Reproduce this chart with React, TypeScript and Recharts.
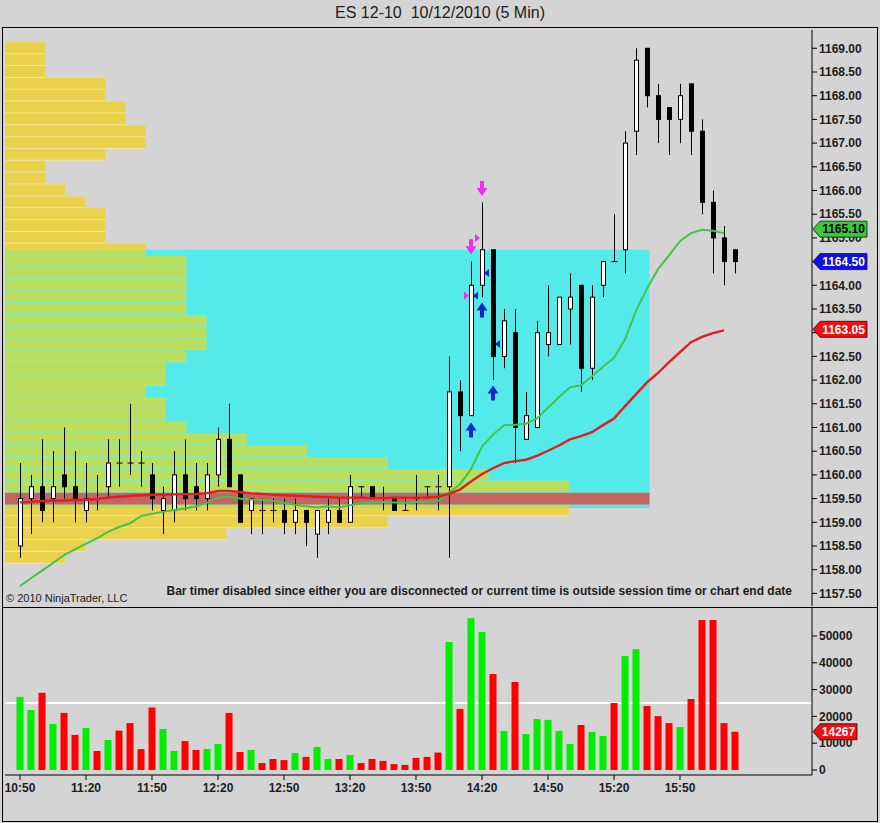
import React from "react";
import {
  ComposedChart,
  Bar,
  Line,
  XAxis,
  YAxis,
  ReferenceArea,
  ReferenceLine,
  Scatter,
  Cell,
} from "recharts";

// ---------------- DATA ----------------
const TIMES = [
  "10:50", "10:55", "11:00", "11:05", "11:10", "11:15", "11:20", "11:25", "11:30", "11:35", "11:40", "11:45",
  "11:50", "11:55", "12:00", "12:05", "12:10", "12:15", "12:20", "12:25", "12:30", "12:35", "12:40", "12:45",
  "12:50", "12:55", "13:00", "13:05", "13:10", "13:15", "13:20", "13:25", "13:30", "13:35", "13:40", "13:45",
  "13:50", "13:55", "14:00", "14:05", "14:10", "14:15", "14:20", "14:25", "14:30", "14:35", "14:40", "14:45",
  "14:50", "14:55", "15:00", "15:05", "15:10", "15:15", "15:20", "15:25", "15:30", "15:35", "15:40", "15:45",
  "15:50", "15:55", "16:00", "16:05", "16:10", "16:15",
];

const OPEN = [
  1158.5, 1159.5, 1159.75, 1159.5, 1160.0, 1159.75, 1159.25, 1159.5, 1159.75, 1160.25, 1160.25, 1160.25,
  1160.0, 1159.25, 1159.25, 1160.0, 1159.75, 1159.5, 1160.0, 1160.75, 1160.0, 1159.25, 1159.25, 1159.25,
  1159.25, 1159.0, 1159.25, 1158.75, 1159.0, 1159.25, 1159.0, 1159.75, 1159.75, 1159.5, 1159.5, 1159.25,
  1159.5, 1159.75, 1159.75, 1159.75, 1161.75, 1161.25, 1164.0, 1164.75, 1162.5, 1163.0, 1160.75, 1161.0,
  1162.75, 1162.75, 1163.5, 1164.0, 1162.25, 1164.0, 1164.5, 1164.75, 1167.25, 1169.0, 1168.0, 1167.75,
  1167.5, 1168.25, 1167.25, 1165.75, 1165.0, 1164.75,
];
const HIGH = [
  1160.25, 1160.0, 1160.75, 1160.5, 1161.0, 1160.5, 1160.25, 1160.0, 1160.75, 1160.75, 1161.5, 1160.5,
  1160.25, 1159.75, 1160.5, 1160.75, 1160.25, 1160.25, 1161.0, 1161.5, 1160.0, 1159.5, 1159.5, 1159.5,
  1159.5, 1159.5, 1159.25, 1159.25, 1159.5, 1159.5, 1160.0, 1159.75, 1159.75, 1159.75, 1159.5, 1159.5,
  1160.0, 1159.75, 1160.0, 1162.5, 1162.0, 1164.5, 1165.75, 1164.75, 1163.5, 1163.5, 1161.75, 1163.25,
  1164.0, 1163.75, 1164.25, 1164.0, 1164.0, 1164.5, 1165.5, 1167.25, 1169.0, 1169.0, 1168.25, 1167.75,
  1168.25, 1168.25, 1167.5, 1166.0, 1165.25, 1164.75,
];
const LOW = [
  1158.25, 1158.75, 1159.0, 1159.0, 1159.5, 1159.0, 1159.0, 1159.25, 1159.5, 1159.75, 1160.0, 1159.75,
  1159.25, 1158.75, 1159.0, 1159.25, 1159.25, 1159.25, 1159.75, 1159.75, 1159.0, 1158.75, 1158.75, 1159.0,
  1158.75, 1158.75, 1158.5, 1158.25, 1158.75, 1159.0, 1159.0, 1159.5, 1159.5, 1159.25, 1159.25, 1159.25,
  1159.25, 1159.5, 1159.25, 1158.25, 1160.5, 1161.25, 1163.75, 1162.0, 1162.25, 1160.25, 1160.75, 1161.0,
  1162.5, 1162.75, 1162.75, 1161.75, 1162.0, 1163.75, 1164.5, 1164.25, 1166.75, 1167.75, 1167.0, 1166.75,
  1167.0, 1166.75, 1165.5, 1164.25, 1164.0, 1164.25,
];
const CLOSE = [
  1159.5, 1159.75, 1159.25, 1159.75, 1159.75, 1159.5, 1159.5, 1159.5, 1160.25, 1160.25, 1160.25, 1160.25,
  1159.5, 1159.5, 1160.0, 1159.5, 1159.5, 1160.0, 1160.75, 1159.75, 1159.0, 1159.5, 1159.25, 1159.25,
  1159.0, 1159.25, 1159.0, 1159.25, 1159.25, 1159.0, 1159.75, 1159.75, 1159.5, 1159.5, 1159.25, 1159.25,
  1159.5, 1159.75, 1159.75, 1161.75, 1161.25, 1164.0, 1164.75, 1162.5, 1163.25, 1161.0, 1161.25, 1163.0,
  1163.0, 1163.75, 1163.75, 1162.25, 1163.75, 1164.5, 1164.5, 1167.0, 1168.75, 1168.0, 1167.5, 1167.5,
  1168.0, 1167.25, 1165.75, 1165.0, 1164.5, 1164.5,
];
const VOLUME = [
  27300, 22400, 28800, 17200, 21300, 13100, 15700, 7100, 11200, 14700, 17500, 7800,
  23300, 15300, 7100, 10800, 7500, 7800, 9700, 21300, 6700, 7500, 2600, 4100,
  3700, 6300, 4900, 8600, 4100, 4100, 5600, 2600, 4100, 3400, 2200, 1900,
  4500, 4900, 6500, 47800, 22800, 56600, 51500, 35800, 14600, 32800, 13400, 19000,
  18700, 14600, 9700, 16800, 14200, 12700, 25000, 42500, 45100, 23900, 20100, 17500,
  16000, 26500, 56000, 56000, 17500, 14267,
];
const SMA_FAST = [
  1157.65, 1157.82, 1157.98, 1158.14, 1158.31, 1158.43, 1158.55, 1158.66, 1158.8, 1158.9,
  1158.98, 1159.13, 1159.18, 1159.22, 1159.26, 1159.29, 1159.34, 1159.41, 1159.52, 1159.54,
  1159.5, 1159.48, 1159.47, 1159.45, 1159.41, 1159.37, 1159.34, 1159.31, 1159.34, 1159.31,
  1159.36, 1159.4, 1159.42, 1159.43, 1159.42, 1159.41, 1159.43, 1159.44, 1159.45, 1159.62,
  1159.8, 1160.12, 1160.6, 1160.85, 1161.05, 1161.06, 1161.08, 1161.19, 1161.42, 1161.64,
  1161.85, 1161.89, 1162.08, 1162.28, 1162.47, 1162.86, 1163.46, 1163.93, 1164.34, 1164.63,
  1164.93, 1165.1, 1165.17, 1165.15, 1165.1, null,
];
const SMA_SLOW = [
  1159.42, 1159.43, 1159.45, 1159.455, 1159.46, 1159.47, 1159.47, 1159.49, 1159.52, 1159.54,
  1159.555, 1159.57, 1159.58, 1159.585, 1159.59, 1159.595, 1159.6, 1159.615, 1159.66, 1159.66,
  1159.64, 1159.61, 1159.6, 1159.58, 1159.57, 1159.56, 1159.55, 1159.54, 1159.53, 1159.52,
  1159.52, 1159.52, 1159.51, 1159.51, 1159.52, 1159.52, 1159.52, 1159.52, 1159.54, 1159.6,
  1159.69, 1159.86, 1160.02, 1160.14, 1160.25, 1160.29, 1160.32, 1160.4, 1160.51, 1160.62,
  1160.75, 1160.82, 1160.9, 1161.05, 1161.19, 1161.45, 1161.7, 1161.95, 1162.15, 1162.38,
  1162.59, 1162.8, 1162.91, 1162.99, 1163.05, null,
];

const PROFILE_PRICES = [
  1169.0, 1168.75, 1168.5, 1168.25, 1168.0, 1167.75, 1167.5, 1167.25, 1167.0, 1166.75, 1166.5,
  1166.25, 1166.0, 1165.75, 1165.5, 1165.25, 1165.0, 1164.75, 1164.5, 1164.25, 1164.0, 1163.75,
  1163.5, 1163.25, 1163.0, 1162.75, 1162.5, 1162.25, 1162.0, 1161.75, 1161.5, 1161.25, 1161.0,
  1160.75, 1160.5, 1160.25, 1160.0, 1159.75, 1159.5, 1159.25, 1159.0, 1158.75, 1158.5, 1158.25,
];
const PROFILE_COUNTS = [
  2, 2, 2, 5, 5, 6, 6, 7, 7, 5, 2,
  2, 3, 4, 5, 5, 5, 7, 9, 9, 9, 9,
  9, 10, 10, 10, 9, 8, 8, 7, 8, 8, 9,
  12, 15, 19, 24, 28, 32, 28, 19, 11, 4, 3,
];
const VALUE_AREA_LOW = 1159.3;
const VALUE_AREA_HIGH = 1164.75;
const POC_PRICE = 1159.5;
const AVG_VOLUME = 25000;

const PRICE_TICKS = [
  1157.5, 1158, 1158.5, 1159, 1159.5, 1160, 1160.5, 1161, 1161.5, 1162, 1162.5, 1163,
  1163.5, 1164, 1164.5, 1165, 1165.5, 1166, 1166.5, 1167, 1167.5, 1168, 1168.5, 1169,
];
const VOLUME_TICKS = [0, 10000, 20000, 30000, 40000, 50000];
const TIME_TICK_LABELS = ["10:50", "11:20", "11:50", "12:20", "12:50", "13:20", "13:50", "14:20", "14:50", "15:20", "15:50"];

const SELL_ARROWS = [
  { idx: 41, price: 1164.8 },
  { idx: 42, price: 1166.03 },
];
const BUY_ARROWS = [
  { idx: 41, price: 1160.96 },
  { idx: 42, price: 1163.49 },
  { idx: 43, price: 1161.74 },
];
const SELL_MARKERS = [
  { idx: 42, price: 1165.0 },
  { idx: 41, price: 1163.78 },
];
const BUY_MARKERS = [
  { idx: 41, price: 1163.78 },
  { idx: 42, price: 1164.26 },
  { idx: 43, price: 1162.76 },
];

// ---------------- LAYOUT CONSTANTS ----------------
const FONT = "'Liberation Sans', Arial, Helvetica, sans-serif";
const X_DOMAIN: [number, number] = [-1.364, 72];
const PRICE_DOMAIN: [number, number] = [1157.234, 1169.386];
const VOL_DOMAIN: [number, number] = [-1866, 60448];
const VP_DOMAIN: [number, number] = [0, 40.07];
const ROW_HALF = 0.125;
const ROW_GAP = 0.022;

const COL_CYAN = "#55eaea";
const COL_YELLOW = "#ebd24c";
const COL_YELLOW_LIGHT = "#f4e49e";
const COL_GREENYELLOW = "#bade5e";
const COL_GREEN_LIGHT = "#84eec6";
const COL_POC = "#c46464";

const candles = TIMES.map((t, i) => ({
  idx: i,
  time: t,
  open: OPEN[i],
  high: HIGH[i],
  low: LOW[i],
  close: CLOSE[i],
  range: [LOW[i], HIGH[i]],
  vol: VOLUME[i],
  fast: SMA_FAST[i],
  slow: SMA_SLOW[i],
}));

const timeTickIdx = TIME_TICK_LABELS.map((l) => TIMES.indexOf(l));

type Seg = { key: string; x2: number; y1: number; y2: number; fill: string };
const profileSegs: Seg[] = [];
const splitRow = (i: number, lo: number, hi: number, c: number, inCol: string, outCol: string, tag: string) => {
  const inLo = Math.max(lo, VALUE_AREA_LOW);
  const inHi = Math.min(hi, VALUE_AREA_HIGH);
  if (inHi > inLo) profileSegs.push({ key: `${tag}g${i}`, x2: c, y1: inLo, y2: inHi, fill: inCol });
  if (lo < VALUE_AREA_LOW) profileSegs.push({ key: `${tag}b${i}`, x2: c, y1: lo, y2: Math.min(hi, VALUE_AREA_LOW), fill: outCol });
  if (hi > VALUE_AREA_HIGH) profileSegs.push({ key: `${tag}t${i}`, x2: c, y1: Math.max(lo, VALUE_AREA_HIGH), y2: hi, fill: outCol });
};
PROFILE_PRICES.forEach((p, i) => {
  const c = PROFILE_COUNTS[i];
  // light separator layer (full row height), then the row body
  splitRow(i, p - ROW_HALF, p + ROW_HALF, c, COL_GREEN_LIGHT, COL_YELLOW_LIGHT, "s");
  splitRow(i, p - ROW_HALF + ROW_GAP, p + ROW_HALF, c, COL_GREENYELLOW, COL_YELLOW, "r");
});
const pocCount = PROFILE_COUNTS[PROFILE_PRICES.indexOf(POC_PRICE)];

// ---------------- SHAPES ----------------
const Candle = (props: any) => {
  const { x, y, width, height } = props;
  const p = props.payload || props;
  if (x == null || y == null) return null;
  const span = p.high - p.low;
  const py = (v: number) => y + (span === 0 ? 0 : ((p.high - v) / span) * height);
  const cx = Math.round(x + width / 2) + 0.5;
  const top = py(Math.max(p.open, p.close));
  const bot = py(Math.min(p.open, p.close));
  const up = p.close > p.open;
  const doji = p.close === p.open;
  return (
    <g>
      <line x1={cx} x2={cx} y1={y} y2={y + height} stroke="#000" strokeWidth={1} />
      {doji ? (
        <line x1={cx - 3} x2={cx + 3} y1={top} y2={top} stroke="#000" strokeWidth={1} />
      ) : (
        <rect x={cx - 2} y={top} width={4} height={Math.max(bot - top, 1)} fill={up ? "#ffffff" : "#000000"} stroke="#000" strokeWidth={1} />
      )}
    </g>
  );
};

const DownArrow = (props: any) => {
  const { cx, cy } = props;
  if (cx == null) return null;
  const pts = [
    [cx - 2, cy - 8], [cx + 2, cy - 8], [cx + 2, cy - 1], [cx + 5.5, cy - 1],
    [cx, cy + 7], [cx - 5.5, cy - 1], [cx - 2, cy - 1],
  ].map((q) => q.join(",")).join(" ");
  return <polygon points={pts} fill="#f02cf0" />;
};
const UpArrow = (props: any) => {
  const { cx, cy } = props;
  if (cx == null) return null;
  const pts = [
    [cx - 2, cy + 8], [cx + 2, cy + 8], [cx + 2, cy + 1], [cx + 5.5, cy + 1],
    [cx, cy - 7], [cx - 5.5, cy + 1], [cx - 2, cy + 1],
  ].map((q) => q.join(",")).join(" ");
  return <polygon points={pts} fill="#1426c8" />;
};
const RightTri = (props: any) => {
  const { cx, cy } = props;
  if (cx == null) return null;
  const x0 = cx - 7;
  return <polygon points={`${x0},${cy - 4} ${x0 + 5},${cy} ${x0},${cy + 4}`} fill="#f02cf0" />;
};
const LeftTri = (props: any) => {
  const { cx, cy } = props;
  if (cx == null) return null;
  const x0 = cx + 7;
  return <polygon points={`${x0},${cy - 4} ${x0 - 5},${cy} ${x0},${cy + 4}`} fill="#1426c8" />;
};

const Flag = ({ vb, text, bg, fg, w, shift = 0 }: any) => {
  if (!vb) return null;
  const x0 = vb.x + vb.width + 1;
  const y = vb.y + (vb.height || 0) / 2 + shift;
  const h = 8;
  const pts = `${x0},${y} ${x0 + 7},${y - h} ${x0 + 7 + w},${y - h} ${x0 + 7 + w},${y + h} ${x0 + 7},${y + h}`;
  return (
    <g>
      <polygon points={pts} fill={bg} stroke="#111" strokeWidth={0.8} />
      <text x={x0 + 7 + w / 2} y={y} dy="0.36em" textAnchor="middle" fontSize={12} fontWeight="bold" fill={fg} fontFamily={FONT}>
        {text}
      </text>
    </g>
  );
};

const tickStyle = { fontSize: 12, fontWeight: "bold", fill: "#1c1c1c", fontFamily: FONT };

const MAIN_MARGIN = { top: 30, right: 8, left: 5, bottom: 1 };
const VOL_MARGIN = { top: 1, right: 8, left: 5, bottom: 18 };

export default function App() {
  const lastFast = SMA_FAST[64] as number;
  const lastSlow = SMA_SLOW[64] as number;
  const lastClose = CLOSE[CLOSE.length - 1];
  const lastVol = VOLUME[VOLUME.length - 1];

  return (
    <div
      style={{
        position: "absolute",
        left: 0,
        top: 0,
        width: 880,
        height: 823,
        background: "#d4d4d4",
        fontFamily: FONT,
        overflow: "hidden",
      }}
    >
      <div
        style={{
          position: "absolute",
          left: 0,
          top: 4,
          width: 880,
          textAlign: "center",
          fontSize: 16,
          whiteSpace: "pre",
          color: "#202020",
        }}
      >
        {"ES 12-10  10/12/2010 (5 Min)"}
      </div>

      {/* Price panel */}
      <div style={{ position: "absolute", left: 0, top: 0 }}>
        <ComposedChart width={880} height={607} data={candles} margin={MAIN_MARGIN}>
          <XAxis xAxisId="main" dataKey="idx" type="number" domain={X_DOMAIN} allowDataOverflow hide ticks={timeTickIdx} />
          <XAxis xAxisId="vp" dataKey="profileCount" type="number" domain={VP_DOMAIN} allowDataOverflow hide />
          <YAxis
            yAxisId="price"
            orientation="right"
            width={60}
            type="number"
            domain={PRICE_DOMAIN}
            allowDataOverflow
            ticks={PRICE_TICKS}
            interval={0}
            tickFormatter={(v: number) => v.toFixed(2)}
            tick={tickStyle}
            tickLine={{ stroke: "#000" }}
            axisLine={{ stroke: "#000" }}
            tickSize={5}
            tickMargin={2}
          />
          <ReferenceArea
            xAxisId="vp"
            yAxisId="price"
            x1={0}
            x2={pocCount}
            y1={VALUE_AREA_LOW}
            y2={VALUE_AREA_HIGH}
            fill={COL_CYAN}
            fillOpacity={1}
            stroke="none"
            ifOverflow="visible"
          />
          {profileSegs.map((s) => (
            <ReferenceArea
              key={s.key}
              xAxisId="vp"
              yAxisId="price"
              x1={0}
              x2={s.x2}
              y1={s.y1}
              y2={s.y2}
              fill={s.fill}
              fillOpacity={1}
              stroke="none"
              ifOverflow="visible"
            />
          ))}
          <ReferenceArea
            xAxisId="vp"
            yAxisId="price"
            x1={0}
            x2={pocCount}
            y1={POC_PRICE - ROW_HALF}
            y2={POC_PRICE + ROW_HALF}
            fill={COL_POC}
            fillOpacity={1}
            stroke="none"
            ifOverflow="visible"
          />
          <Bar xAxisId="main" yAxisId="price" dataKey="range" barSize={6} shape={<Candle />} isAnimationActive={false} />
          <Line xAxisId="main" yAxisId="price" dataKey="fast" stroke="#44c444" strokeWidth={2} dot={false} isAnimationActive={false} />
          <Line xAxisId="main" yAxisId="price" dataKey="slow" stroke="#e61c1c" strokeWidth={2.4} dot={false} isAnimationActive={false} />
          <Scatter xAxisId="main" yAxisId="price" data={SELL_ARROWS} dataKey="price" shape={<DownArrow />} isAnimationActive={false} />
          <Scatter xAxisId="main" yAxisId="price" data={BUY_ARROWS} dataKey="price" shape={<UpArrow />} isAnimationActive={false} />
          <Scatter xAxisId="main" yAxisId="price" data={SELL_MARKERS} dataKey="price" shape={<RightTri />} isAnimationActive={false} />
          <Scatter xAxisId="main" yAxisId="price" data={BUY_MARKERS} dataKey="price" shape={<LeftTri />} isAnimationActive={false} />
        </ComposedChart>
      </div>

      {/* Price flags overlay */}
      <div style={{ position: "absolute", left: 0, top: 0 }}>
        <ComposedChart width={880} height={607} data={candles} margin={MAIN_MARGIN}>
          <XAxis xAxisId="main" dataKey="idx" type="number" domain={X_DOMAIN} allowDataOverflow hide />
          <YAxis
            yAxisId="price"
            orientation="right"
            width={60}
            type="number"
            domain={PRICE_DOMAIN}
            allowDataOverflow
            tick={false}
            tickLine={false}
            axisLine={false}
          />
          <ReferenceLine
            xAxisId="main"
            yAxisId="price"
            y={lastSlow}
            stroke="none"
            ifOverflow="visible"
            label={(p: any) => <Flag vb={p.viewBox} text={lastSlow.toFixed(2)} bg="#ee1010" fg="#ffffff" w={47} shift={-1} />}
          />
          <ReferenceLine
            xAxisId="main"
            yAxisId="price"
            y={lastClose}
            stroke="none"
            ifOverflow="visible"
            label={(p: any) => <Flag vb={p.viewBox} text={lastClose.toFixed(2)} bg="#1010e0" fg="#ffffff" w={47} />}
          />
          <ReferenceLine
            xAxisId="main"
            yAxisId="price"
            y={lastFast}
            stroke="none"
            ifOverflow="visible"
            label={(p: any) => <Flag vb={p.viewBox} text={lastFast.toFixed(2)} bg="#3cc83c" fg="#000000" w={47} shift={-4} />}
          />
        </ComposedChart>
      </div>

      {/* Volume panel */}
      <div style={{ position: "absolute", left: 0, top: 607 }}>
        <ComposedChart width={880} height={216} data={candles} margin={VOL_MARGIN}>
          <XAxis
            xAxisId="t"
            dataKey="idx"
            type="number"
            domain={X_DOMAIN}
            allowDataOverflow
            ticks={timeTickIdx}
            interval={0}
            tickFormatter={(v: number) => TIMES[v]}
            tick={tickStyle}
            tickLine={{ stroke: "#000" }}
            axisLine={{ stroke: "#000" }}
            tickSize={5}
            tickMargin={3}
            height={30}
          />
          <YAxis
            yAxisId="v"
            orientation="right"
            width={60}
            type="number"
            domain={VOL_DOMAIN}
            allowDataOverflow
            ticks={VOLUME_TICKS}
            interval={0}
            tick={tickStyle}
            tickLine={{ stroke: "#000" }}
            axisLine={{ stroke: "#000" }}
            tickSize={5}
            tickMargin={2}
          />
          <ReferenceLine xAxisId="t" yAxisId="v" y={AVG_VOLUME} stroke="#ffffff" strokeWidth={2} zIndex={150} />
          <Bar xAxisId="t" yAxisId="v" dataKey="vol" barSize={7} isAnimationActive={false}>
            {candles.map((c, i) => (
              <Cell key={i} fill={c.close > c.open ? "#00ee00" : "#ff0000"} />
            ))}
          </Bar>
        </ComposedChart>
      </div>

      {/* Volume flag overlay */}
      <div style={{ position: "absolute", left: 0, top: 607 }}>
        <ComposedChart width={880} height={216} data={candles} margin={VOL_MARGIN}>
          <XAxis xAxisId="t" dataKey="idx" type="number" domain={X_DOMAIN} allowDataOverflow height={30} tick={false} tickLine={false} axisLine={false} />
          <YAxis
            yAxisId="v"
            orientation="right"
            width={60}
            type="number"
            domain={VOL_DOMAIN}
            allowDataOverflow
            tick={false}
            tickLine={false}
            axisLine={false}
          />
          <ReferenceLine
            xAxisId="t"
            yAxisId="v"
            y={lastVol}
            stroke="none"
            ifOverflow="visible"
            label={(p: any) => <Flag vb={p.viewBox} text={String(lastVol)} bg="#ee1010" fg="#ffffff" w={37} />}
          />
        </ComposedChart>
      </div>

      {/* Frame */}
      <div style={{ position: "absolute", left: 2, top: 27, width: 876, height: 795, border: "1px solid #000", boxSizing: "border-box", pointerEvents: "none" }} />
      <div style={{ position: "absolute", left: 2, top: 607, width: 876, height: 1, background: "#000" }} />

      {/* Texts */}
      <div style={{ position: "absolute", left: 6, top: 592, fontSize: 11, color: "#1c1c1c", whiteSpace: "nowrap" }}>
        © 2010 NinjaTrader, LLC
      </div>
      <div
        style={{
          position: "absolute",
          right: 88,
          top: 584,
          fontSize: 12,
          fontWeight: "bold",
          color: "#1c1c1c",
          whiteSpace: "nowrap",
        }}
      >
        Bar timer disabled since either you are disconnected or current time is outside session time or chart end date
      </div>
    </div>
  );
}
